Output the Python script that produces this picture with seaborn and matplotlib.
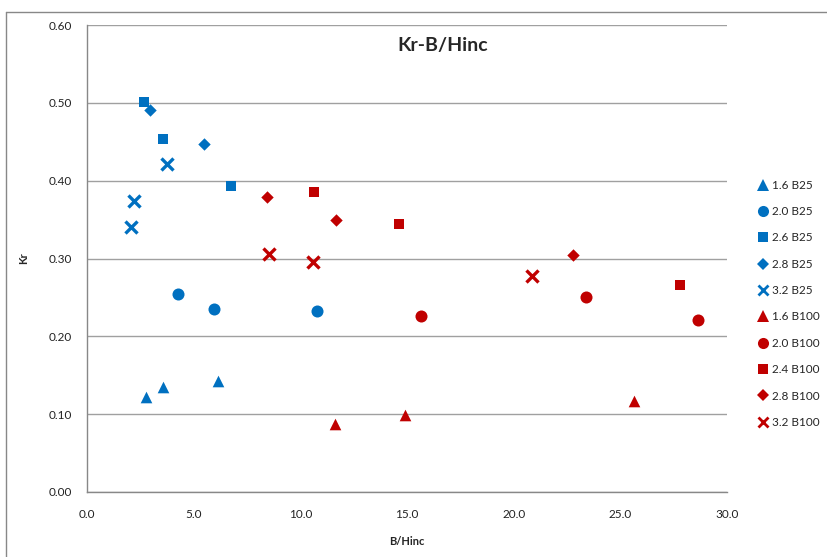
import matplotlib
matplotlib.use("Agg")
import matplotlib.pyplot as plt
import seaborn as sns
import pandas as pd
from matplotlib.lines import Line2D

sns.set_theme(style="white")
plt.rcParams['font.family'] = ['Lato', 'DejaVu Sans']

BLUE = "#0070C0"
RED = "#C00000"

series_names = ["1.6 B25", "2.0 B25", "2.6 B25", "2.8 B25", "3.2 B25",
                "1.6 B100", "2.0 B100", "2.4 B100", "2.8 B100", "3.2 B100"]
x_16_b25 = [2.77, 3.56, 6.14]
y_16_b25 = [0.122, 0.135, 0.142]
x_20_b25 = [4.27, 5.95, 10.78]
y_20_b25 = [0.254, 0.235, 0.233]
x_26_b25 = [2.67, 3.56, 6.75]
y_26_b25 = [0.501, 0.454, 0.393]
x_28_b25 = [2.95, 5.49]
y_28_b25 = [0.491, 0.447]
x_32_b25 = [2.06, 2.20, 3.75]
y_32_b25 = [0.340, 0.374, 0.421]
x_16_b100 = [11.63, 14.90, 25.64]
y_16_b100 = [0.087, 0.099, 0.117]
x_20_b100 = [15.66, 23.39, 28.64]
y_20_b100 = [0.226, 0.250, 0.221]
x_24_b100 = [10.64, 14.63, 27.80]
y_24_b100 = [0.386, 0.344, 0.266]
x_28_b100 = [8.44, 11.67, 22.78]
y_28_b100 = [0.379, 0.350, 0.305]
x_32_b100 = [8.53, 10.60, 20.86]
y_32_b100 = [0.306, 0.296, 0.278]

xs = [x_16_b25, x_20_b25, x_26_b25, x_28_b25, x_32_b25,
      x_16_b100, x_20_b100, x_24_b100, x_28_b100, x_32_b100]
ys = [y_16_b25, y_20_b25, y_26_b25, y_28_b25, y_32_b25,
      y_16_b100, y_20_b100, y_24_b100, y_28_b100, y_32_b100]

rows = []
for name, xv, yv in zip(series_names, xs, ys):
    for a, b in zip(xv, yv):
        rows.append({"series": name, "B/Hinc": a, "Kr": b})
df = pd.DataFrame(rows)

palette = {}
mk = ["^", "o", "s", "D", "X"]
for i, n in enumerate(series_names):
    palette[n] = BLUE if i < 5 else RED

fig = plt.figure(figsize=(8.27, 5.57), dpi=100)
ax = fig.add_axes([87/827, 1-492/557, 640/827, 467/557])

# outer chart border
fig.add_artist(Line2D([6/827, 1.0], [1-12/557, 1-12/557], color="#888888", lw=1.0, transform=fig.transFigure))
fig.add_artist(Line2D([6/827, 6/827], [0, 1-12/557], color="#888888", lw=1.0, transform=fig.transFigure))

ax.yaxis.grid(True, color="#A0A0A0", lw=1.0)
ax.set_axisbelow(True)

for i, n in enumerate(series_names):
    sub = df[df.series == n]
    m = mk[i % 5]
    if m == "X":
        sns.scatterplot(data=sub, x="B/Hinc", y="Kr", ax=ax, marker="x", color=palette[n],
                        s=75, linewidth=2.4, label=n, legend=False, zorder=3)
    else:
        s = {"^": 70, "o": 75, "s": 60, "D": 40}[m]
        sns.scatterplot(data=sub, x="B/Hinc", y="Kr", ax=ax, marker=m, color=palette[n],
                        s=s, linewidth=0, label=n, legend=False, zorder=3)

ax.set_xlim(0, 30)
ax.set_ylim(0, 0.6)
ax.set_xticks([0, 5, 10, 15, 20, 25, 30])
ax.set_xticklabels([f"{v:.1f}" for v in [0, 5, 10, 15, 20, 25, 30]])
ax.set_yticks([0, 0.1, 0.2, 0.3, 0.4, 0.5, 0.6])
ax.set_yticklabels([f"{v:.2f}" for v in [0, 0.1, 0.2, 0.3, 0.4, 0.5, 0.6]])
ax.tick_params(axis="both", labelsize=8.5, colors="#222222", length=5, width=0.8, color="#888888",
               direction="out", pad=6)
ax.tick_params(axis="x", direction="inout", length=6, pad=9)
ax.set_xlabel("B/Hinc", fontsize=8, fontweight="bold", labelpad=12)
ax.set_ylabel("Kr", fontsize=8, fontweight="bold", labelpad=14)
for sp in ["top", "right"]:
    ax.spines[sp].set_visible(False)
for sp in ["left", "bottom"]:
    ax.spines[sp].set_color("#888888")
    ax.spines[sp].set_linewidth(1.0)

fig.text(443/827, 1-45/557, "Kr-B/Hinc", ha="center", va="center", fontsize=14, fontweight="bold")

handles = []
for i, n in enumerate(series_names):
    m = mk[i % 5]
    if m == "X":
        h = Line2D([], [], marker="x", color=palette[n], ls="", markersize=7, markeredgewidth=2)
    else:
        ms = {"^": 8, "o": 8, "s": 7.5, "D": 6}[m]
        h = Line2D([], [], marker=m, color=palette[n], ls="", markersize=ms, markeredgewidth=0)
    handles.append(h)
fig.legend(handles, series_names, loc="upper left", bbox_to_anchor=(754/827, 1-175/557),
           frameon=False, fontsize=8.5, handlelength=0.8, handletextpad=0.3, labelspacing=1.3,
           borderaxespad=0)

fig.savefig("out.png", dpi=100, facecolor="white")
